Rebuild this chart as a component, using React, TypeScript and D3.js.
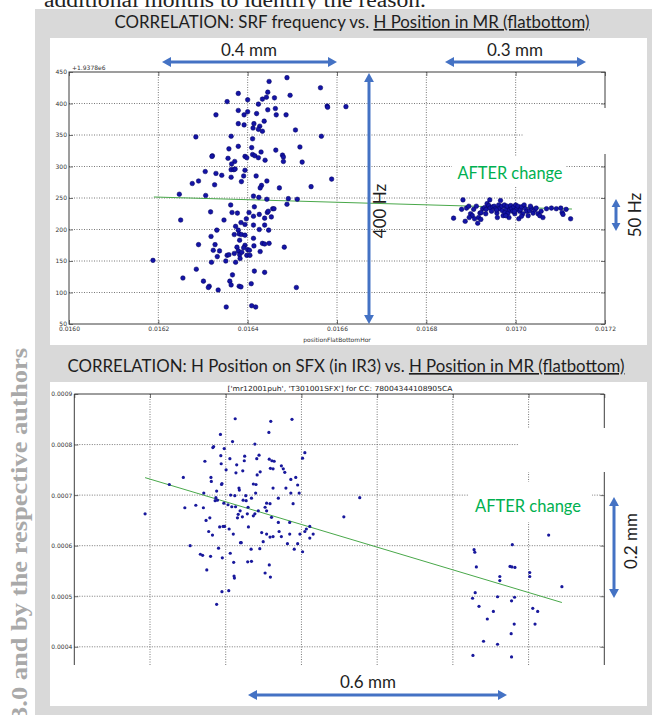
import React, { useEffect, useRef } from 'react';
import * as d3 from 'd3';

// SRF frequency (offset from 1.9378e6 Hz) vs. positionFlatBottomHor
const srfBefore: [number, number][] = [
  [0.016488, 441], [0.016448, 435], [0.016563, 425], [0.016379, 416], [0.016495, 413], [0.016445, 418],
  [0.016433, 407], [0.016442, 410], [0.01646, 409], [0.0164, 406], [0.016354, 403], [0.016424, 399],
  [0.016578, 396], [0.016579, 394], [0.01662, 395], [0.016462, 392], [0.016379, 389], [0.0164, 387],
  [0.016445, 390], [0.016329, 382], [0.016392, 382], [0.01642, 384], [0.016464, 382], [0.016486, 382],
  [0.016437, 372], [0.016379, 368], [0.016392, 366], [0.016414, 368], [0.016427, 364], [0.016412, 361],
  [0.016424, 359], [0.016433, 356], [0.016507, 358], [0.016565, 348], [0.016284, 347], [0.016363, 348],
  [0.016411, 344], [0.016358, 328], [0.016379, 332], [0.016409, 330], [0.016517, 331], [0.016463, 326],
  [0.01643, 323], [0.016321, 317], [0.01632, 316], [0.016394, 316], [0.016398, 314], [0.016411, 319],
  [0.016416, 317], [0.016424, 314], [0.016478, 318], [0.01648, 315], [0.016356, 313], [0.016371, 308],
  [0.016439, 310], [0.016364, 304], [0.01648, 308], [0.016522, 307], [0.016305, 292], [0.016329, 289],
  [0.016363, 295], [0.016369, 295], [0.016372, 296], [0.016394, 294], [0.016342, 286], [0.016363, 283],
  [0.016391, 285], [0.016419, 285], [0.016588, 280], [0.016276, 273], [0.01629, 277], [0.016326, 271],
  [0.016386, 276], [0.016443, 277], [0.016431, 270], [0.016428, 266], [0.016471, 266], [0.016542, 268],
  [0.016247, 256], [0.016306, 254], [0.016413, 253], [0.016425, 251], [0.016443, 248], [0.016491, 249],
  [0.016511, 248], [0.016362, 239], [0.016488, 240], [0.016415, 236], [0.016317, 228], [0.016365, 227],
  [0.016377, 226], [0.016403, 227], [0.016444, 227], [0.016446, 229], [0.016456, 233], [0.016459, 233],
  [0.016426, 224], [0.016438, 218], [0.016397, 217], [0.01625, 215], [0.016347, 215], [0.016413, 221],
  [0.016453, 220], [0.016385, 211], [0.016373, 205], [0.016394, 208], [0.016413, 207], [0.016438, 207],
  [0.016331, 199], [0.016379, 199], [0.016447, 199], [0.016426, 200], [0.016318, 189], [0.01637, 192],
  [0.016381, 193], [0.016386, 192], [0.016382, 183], [0.016394, 191], [0.016413, 186], [0.01629, 176],
  [0.016327, 176], [0.016394, 175], [0.016391, 171], [0.016414, 174], [0.016433, 178], [0.016438, 177],
  [0.016448, 178], [0.016482, 172], [0.016323, 167], [0.016337, 166], [0.016376, 172], [0.016379, 166],
  [0.0164, 168], [0.016404, 167], [0.016428, 165], [0.016332, 157], [0.016354, 159], [0.01637, 162],
  [0.016358, 160], [0.016382, 160], [0.016387, 164], [0.016398, 159], [0.016405, 159], [0.016319, 148],
  [0.016351, 150], [0.016373, 148], [0.016383, 154], [0.016188, 151], [0.016285, 137], [0.016415, 134],
  [0.016438, 132], [0.016366, 128], [0.016255, 123], [0.016301, 118], [0.01636, 118], [0.016363, 112],
  [0.016314, 110], [0.016312, 108], [0.016334, 104], [0.016381, 110], [0.016385, 109], [0.016408, 114],
  [0.016509, 108], [0.016352, 77], [0.016409, 79], [0.016418, 77],
];
const srfAfter: [number, number][] = [
  [0.016882, 247], [0.016861, 218], [0.016887, 213], [0.016879, 232], [0.01689, 234], [0.016895, 237],
  [0.016899, 225], [0.016903, 222], [0.016906, 232], [0.016912, 237], [0.016915, 210], [0.016917, 219],
  [0.01692, 226], [0.016922, 216], [0.016926, 233], [0.016931, 235], [0.016934, 232], [0.016936, 241],
  [0.01694, 238], [0.016942, 247], [0.016943, 234], [0.016946, 229], [0.016949, 236], [0.016952, 237],
  [0.016955, 233], [0.016958, 226], [0.016959, 219], [0.016962, 239], [0.016964, 233], [0.016966, 246],
  [0.016969, 237], [0.01697, 230], [0.016972, 222], [0.016975, 239], [0.016976, 227], [0.016979, 233],
  [0.016981, 237], [0.016983, 226], [0.016985, 219], [0.016987, 231], [0.016989, 238], [0.016991, 233],
  [0.016993, 229], [0.016996, 236], [0.016998, 225], [0.017, 239], [0.017002, 232], [0.017005, 237],
  [0.017007, 217], [0.017009, 229], [0.017011, 232], [0.017013, 236], [0.017016, 225], [0.017019, 239],
  [0.017022, 233], [0.017025, 229], [0.017028, 222], [0.017031, 230], [0.017035, 234], [0.017039, 226],
  [0.017043, 231], [0.017046, 234], [0.01705, 225], [0.017054, 222], [0.017057, 229], [0.017069, 233],
  [0.01708, 234], [0.017091, 233], [0.017101, 234], [0.017104, 227], [0.017106, 224], [0.017113, 232],
  [0.017123, 217], [0.016908, 217], [0.016896, 219], [0.016923, 227], [0.016933, 225], [0.016957, 231],
  [0.016978, 222], [0.016997, 229], [0.017013, 221], [0.017033, 237], [0.017061, 219],
];
const srfFit: [number, number][] = [[0.01619, 251.6], [0.017126, 232.5]];
const srfXTicks = [0.016, 0.0162, 0.0164, 0.0166, 0.0168, 0.017, 0.0172];
const srfYTicks = [50, 100, 150, 200, 250, 300, 350, 400, 450];

// H position on SFX vs. H position in MR
const sfxBefore: [number, number][] = [
  [0.015987, 0.000663], [0.016051, 0.000721], [0.016088, 0.000735], [0.016092, 0.000675], [0.016106, 0.0006],
  [0.016121, 0.00068], [0.016133, 0.000583], [0.016139, 0.000581], [0.016141, 0.000675], [0.016142, 0.000704],
  [0.016145, 0.000767], [0.016148, 0.00065], [0.01615, 0.000552], [0.016155, 0.000628], [0.016158, 0.000655],
  [0.01616, 0.000579], [0.016161, 0.000735], [0.016162, 0.000727], [0.016165, 0.000621], [0.016166, 0.000794],
  [0.016168, 0.000796], [0.016172, 0.000689], [0.016174, 0.000695], [0.016176, 0.000708], [0.016176, 0.000484],
  [0.016178, 0.00069], [0.016181, 0.000595], [0.016184, 0.000637], [0.016186, 0.00082], [0.016187, 0.000778],
  [0.016188, 0.000762], [0.016189, 0.000721], [0.01619, 0.000723], [0.01619, 0.000509], [0.016191, 0.000576],
  [0.016193, 0.000638], [0.016195, 0.000684], [0.016196, 0.000792], [0.016197, 0.000638], [0.016201, 0.00075],
  [0.016206, 0.000681], [0.016208, 0.000511], [0.016209, 0.000633], [0.016211, 0.000772], [0.016212, 0.000585],
  [0.016213, 0.0007], [0.016216, 0.000677], [0.016218, 0.000806], [0.01622, 0.000623], [0.016221, 0.000567],
  [0.016222, 0.00054], [0.016223, 0.000536], [0.016224, 0.000699], [0.016225, 0.000851], [0.016226, 0.000677],
  [0.016227, 0.000744], [0.016229, 0.00076], [0.016231, 0.000655], [0.016233, 0.000662], [0.016235, 0.000714],
  [0.016236, 0.00071], [0.016238, 0.000669], [0.016239, 0.000606], [0.016241, 0.000606], [0.016244, 0.000657],
  [0.016245, 0.000748], [0.016246, 0.00069], [0.016249, 0.000768], [0.01625, 0.000777], [0.016253, 0.000699],
  [0.016254, 0.000689], [0.016257, 0.000663], [0.016258, 0.000568], [0.016259, 0.000676], [0.01626, 0.000637],
  [0.016319, 0.000846], [0.016375, 0.00085], [0.016314, 0.000824], [0.016277, 0.000801], [0.016409, 0.000784],
  [0.016403, 0.000773], [0.016288, 0.000779], [0.016282, 0.000772], [0.016315, 0.000771], [0.016322, 0.000768],
  [0.016328, 0.000767], [0.016347, 0.000758], [0.016356, 0.000745], [0.016318, 0.000753], [0.016325, 0.000752],
  [0.016352, 0.000752], [0.016291, 0.000746], [0.016372, 0.000731], [0.016385, 0.000735], [0.016283, 0.00074],
  [0.016273, 0.000722], [0.01628, 0.000721], [0.01639, 0.00072], [0.016325, 0.000714], [0.016359, 0.000714],
  [0.016372, 0.000704], [0.016394, 0.000704], [0.016279, 0.000704], [0.016268, 0.000694], [0.016339, 0.000694],
  [0.016378, 0.000683], [0.016308, 0.000684], [0.016317, 0.000683], [0.016304, 0.000676], [0.016286, 0.000669],
  [0.016308, 0.000669], [0.016277, 0.000663], [0.016321, 0.000656], [0.016273, 0.000659], [0.016339, 0.000646],
  [0.016369, 0.000646], [0.016422, 0.000638], [0.016413, 0.000633], [0.016409, 0.000628], [0.016295, 0.000626],
  [0.016308, 0.000623], [0.016325, 0.000618], [0.016347, 0.000618], [0.016341, 0.000628], [0.016299, 0.000608],
  [0.016369, 0.000623], [0.016317, 0.000617], [0.016396, 0.000623], [0.016422, 0.000615], [0.016431, 0.000623],
  [0.01639, 0.000604], [0.016363, 0.000604], [0.016403, 0.000588], [0.016381, 0.000593], [0.016267, 0.000593],
  [0.01629, 0.000594], [0.016268, 0.000569], [0.016315, 0.000562], [0.016304, 0.000546], [0.016318, 0.000538],
  [0.016512, 0.000657], [0.016554, 0.000695],
];
const sfxAfter: [number, number][] = [
  [0.016856, 0.000592], [0.016858, 0.000587], [0.016862, 0.000558], [0.016957, 0.000602], [0.016951, 0.000559],
  [0.016956, 0.000558], [0.016964, 0.000557], [0.016924, 0.000539], [0.016924, 0.000531], [0.017003, 0.000547],
  [0.017003, 0.000539], [0.017053, 0.000621], [0.017088, 0.000519], [0.016859, 0.000507], [0.016852, 0.000496],
  [0.016918, 0.000499], [0.016955, 0.000491], [0.016963, 0.000498], [0.016869, 0.00048], [0.016907, 0.00047],
  [0.017011, 0.000476], [0.017024, 0.00047], [0.016891, 0.000455], [0.016962, 0.000445], [0.017017, 0.000445],
  [0.016954, 0.000426], [0.016881, 0.000411], [0.016918, 0.000405], [0.016853, 0.000383], [0.016955, 0.00038],
];
const sfxFit: [number, number][] = [[0.015987, 0.0007346], [0.017088, 0.0004876]];
const sfxXTicks = [0.0158, 0.016, 0.0162, 0.0164, 0.0166, 0.0168, 0.017, 0.0172];
const sfxYTicks = [0.0004, 0.0005, 0.0006, 0.0007, 0.0008, 0.0009];

const BLUE = '#4472c4';
const GREEN = '#00b050';
const FIT = '#49a84a';
const GRID = '#555';
const SPINE = '#3c3c3c';

const arrow = (g: any, x1: number, y1: number, x2: number, y2: number, head = 9) => {
  const a = Math.atan2(y2 - y1, x2 - x1);
  const ux = Math.cos(a), uy = Math.sin(a);
  g.append('line')
    .attr('x1', x1 + ux * (head - 2)).attr('y1', y1 + uy * (head - 2))
    .attr('x2', x2 - ux * (head - 2)).attr('y2', y2 - uy * (head - 2))
    .attr('stroke', BLUE).attr('stroke-width', 3);
  const tri = (tx: number, ty: number, dx: number, dy: number) => {
    const bx = tx - dx * head, by = ty - dy * head, w = head * 0.55;
    return `M${tx},${ty}L${bx - dy * w},${by + dx * w}L${bx + dy * w},${by - dx * w}Z`;
  };
  g.append('path').attr('d', tri(x2, y2, ux, uy)).attr('fill', BLUE);
  g.append('path').attr('d', tri(x1, y1, -ux, -uy)).attr('fill', BLUE);
};

const label = (g: any, x: number, y: number, txt: string, opts: any = {}) => {
  const t = g.append('text')
    .attr('transform', `translate(${x},${y})${opts.rotate ? ' rotate(-90)' : ''}`)
    .attr('text-anchor', opts.anchor || 'middle')
    .attr('font-family', opts.font || 'Lato')
    .attr('font-size', opts.size || 17)
    .attr('fill', opts.color || '#1e1e1e')
    .text(txt);
  if (opts.len) t.attr('textLength', opts.len).attr('lengthAdjust', 'spacingAndGlyphs');
  return t;
};

const styleAxis = (sel: any) => {
  sel.select('.domain').remove();
  sel.attr('font-family', 'DejaVu Sans').attr('font-size', 6).attr('color', SPINE);
  sel.selectAll('text').attr('fill', '#333');
  sel.selectAll('line').attr('stroke-width', 0.7);
};

const App = () => {
  const svgRef = useRef<SVGSVGElement>(null);

  useEffect(() => {
    if (!svgRef.current) return;
    const svg = d3.select(svgRef.current);
    svg.selectAll('*').remove();

    svg.append('rect').attr('width', 652).attr('height', 715).attr('fill', '#fff');

    // page text around the figure
    label(svg, 44, 7, 'additional months to identify the reason.', {
      anchor: 'start', font: 'Liberation Serif', size: 20, color: '#222', len: 382,
    });
    svg.append('rect').attr('x', 35).attr('y', 9).attr('width', 617).attr('height', 706).attr('fill', '#d9d9d9');
    label(svg, 27, 348, '3.0 and by the respective authors', {
      rotate: true, anchor: 'end', font: 'Liberation Serif', size: 24, color: '#a9a9a9', len: 372,
    }).attr('font-weight', 'bold');

    // ---------- top chart ----------
    const t1 = label(svg, 352, 28, 'CORRELATION: SRF frequency vs. ', { size: 16.5, len: 475 });
    t1.append('tspan').attr('text-decoration', 'underline').text('H Position in MR (flatbottom)');
    svg.append('rect').attr('x', 50).attr('y', 38).attr('width', 597).attr('height', 307).attr('fill', '#fff');

    const xT = d3.scaleLinear().domain([0.016, 0.0172]).range([69, 605]);
    const yT = d3.scaleLinear().domain([50, 450]).range([324, 72]);
    const top = svg.append('g');

    top.selectAll('.vg').data(srfXTicks.slice(1, -1)).join('line')
      .attr('x1', d => xT(d)).attr('x2', d => xT(d)).attr('y1', yT(450)).attr('y2', yT(50))
      .attr('stroke', GRID).attr('stroke-width', 0.8).attr('stroke-dasharray', '1,1.5');
    top.selectAll('.hg').data(srfYTicks.slice(1, -1)).join('line')
      .attr('x1', xT(0.016)).attr('x2', xT(0.0172)).attr('y1', d => yT(d)).attr('y2', d => yT(d))
      .attr('stroke', GRID).attr('stroke-width', 0.8).attr('stroke-dasharray', '1,1.5');
    top.append('rect').attr('x', xT(0.016)).attr('y', yT(450))
      .attr('width', xT(0.0172) - xT(0.016)).attr('height', yT(50) - yT(450))
      .attr('fill', 'none').attr('stroke', SPINE).attr('stroke-width', 1);

    top.append('g').attr('transform', `translate(0,${yT(50)})`)
      .call(d3.axisBottom(xT).tickValues(srfXTicks).tickFormat(d3.format('.4f')).tickSize(-4).tickSizeOuter(0).tickPadding(3))
      .call(styleAxis);
    top.append('g').attr('transform', `translate(${xT(0.016)},0)`)
      .call(d3.axisLeft(yT).tickValues(srfYTicks).tickFormat(d3.format('d')).tickSize(-4).tickSizeOuter(0).tickPadding(2))
      .call(styleAxis);
    top.append('g').attr('transform', `translate(${xT(0.0172)},0)`)
      .call(d3.axisRight(yT).tickValues(srfYTicks).tickFormat(() => '').tickSize(-4).tickSizeOuter(0))
      .call(styleAxis);
    top.append('g').attr('transform', `translate(0,${yT(450)})`)
      .call(d3.axisTop(xT).tickValues(srfXTicks).tickFormat(() => '').tickSize(-4).tickSizeOuter(0))
      .call(styleAxis);
    label(top, xT(0.016) + 3, yT(450) - 2, '+1.9378e6', { anchor: 'start', font: 'DejaVu Sans', size: 6, color: '#333' });
    label(top, (xT(0.016) + xT(0.0172)) / 2, 342, 'positionFlatBottomHor', { font: 'DejaVu Sans', size: 6, color: '#333' });

    top.append('path').datum(srfFit)
      .attr('d', d3.line<[number, number]>().x(d => xT(d[0])).y(d => yT(d[1])))
      .attr('fill', 'none').attr('stroke', FIT).attr('stroke-width', 1);
    top.selectAll('.pt').data([...srfBefore, ...srfAfter]).join('circle')
      .attr('cx', d => xT(d[0])).attr('cy', d => yT(d[1])).attr('r', 2.3)
      .attr('fill', '#1414a6').attr('stroke', '#00005c').attr('stroke-width', 0.5);

    // pasted slide boxes hiding parts of the plot
    svg.append('rect').attr('x', 523).attr('y', 108).attr('width', 124).attr('height', 46).attr('fill', '#fff');
    svg.append('rect').attr('x', 452).attr('y', 157).attr('width', 114).attr('height', 29).attr('fill', '#fff');

    label(svg, 249, 56, '0.4 mm');
    arrow(svg, 162, 62, 337, 62);
    label(svg, 515, 56, '0.3 mm');
    arrow(svg, 445, 62, 586, 62);
    arrow(svg, 369, 73, 369, 324);
    label(svg, 386, 211, '400 Hz', { rotate: true });
    arrow(svg, 616, 199, 616, 231, 8);
    label(svg, 641, 215, '50 Hz', { rotate: true });
    label(svg, 510, 179, 'AFTER change', { color: GREEN, len: 105 });

    // ---------- bottom chart ----------
    const t2 = label(svg, 346, 372, 'CORRELATION: H Position on SFX (in IR3) vs. ', { size: 16.5, len: 557 });
    t2.append('tspan').attr('text-decoration', 'underline').text('H Position in MR (flatbottom)');
    svg.append('rect').attr('x', 50).attr('y', 382).attr('width', 597).attr('height', 324).attr('fill', '#fff');

    const xB = d3.scaleLinear().domain([0.0158, 0.0172]).range([74.3, 604.3]);
    const yB = d3.scaleLinear().domain([0.000364, 0.0009]).range([665, 394]);
    const bot = svg.append('g');

    bot.selectAll('.vg').data(sfxXTicks.slice(1, -1)).join('line')
      .attr('x1', d => xB(d)).attr('x2', d => xB(d)).attr('y1', yB(0.0009)).attr('y2', yB(0.000364))
      .attr('stroke', GRID).attr('stroke-width', 0.8).attr('stroke-dasharray', '1,1.5');
    bot.selectAll('.hg').data(sfxYTicks.slice(0, -1)).join('line')
      .attr('x1', xB(0.0158)).attr('x2', xB(0.0172)).attr('y1', d => yB(d)).attr('y2', d => yB(d))
      .attr('stroke', GRID).attr('stroke-width', 0.8).attr('stroke-dasharray', '1,1.5');
    bot.append('path')
      .attr('d', `M${xB(0.0158)},${yB(0.000364)}V${yB(0.0009)}H${xB(0.0172)}V${yB(0.000364)}`)
      .attr('fill', 'none').attr('stroke', SPINE).attr('stroke-width', 1);

    bot.append('g').attr('transform', `translate(${xB(0.0158)},0)`)
      .call(d3.axisLeft(yB).tickValues(sfxYTicks).tickFormat(d3.format('.4f')).tickSize(-4).tickSizeOuter(0).tickPadding(2))
      .call(styleAxis);
    bot.append('g').attr('transform', `translate(${xB(0.0172)},0)`)
      .call(d3.axisRight(yB).tickValues(sfxYTicks).tickFormat(() => '').tickSize(-4).tickSizeOuter(0))
      .call(styleAxis);
    bot.append('g').attr('transform', `translate(0,${yB(0.0009)})`)
      .call(d3.axisTop(xB).tickValues(sfxXTicks).tickFormat(() => '').tickSize(-4).tickSizeOuter(0))
      .call(styleAxis);
    label(bot, 340, 391, "['mr12001puh', 'T301001SFX'] for CC: 78004344108905CA", {
      font: 'DejaVu Sans', size: 7, color: '#222', len: 225,
    });

    bot.append('path').datum(sfxFit)
      .attr('d', d3.line<[number, number]>().x(d => xB(d[0])).y(d => yB(d[1])))
      .attr('fill', 'none').attr('stroke', FIT).attr('stroke-width', 1);
    bot.selectAll('.pt').data([...sfxBefore, ...sfxAfter]).join('circle')
      .attr('cx', d => xB(d[0])).attr('cy', d => yB(d[1])).attr('r', 1.6)
      .attr('fill', '#18189c');

    svg.append('rect').attr('x', 518).attr('y', 428).attr('width', 129).attr('height', 44).attr('fill', '#fff');
    svg.append('rect').attr('x', 468).attr('y', 482).attr('width', 124).attr('height', 40).attr('fill', '#fff');

    label(svg, 528, 512, 'AFTER change', { color: GREEN, len: 106 });
    arrow(svg, 614, 497, 614, 598);
    label(svg, 637, 541, '0.2 mm', { rotate: true });
    label(svg, 368, 688, '0.6 mm');
    arrow(svg, 248, 695, 507, 695);
  }, []);

  return (
    <svg ref={svgRef} width={652} height={715} style={{ position: 'absolute', left: 0, top: 0 }} />
  );
};

export default App;
